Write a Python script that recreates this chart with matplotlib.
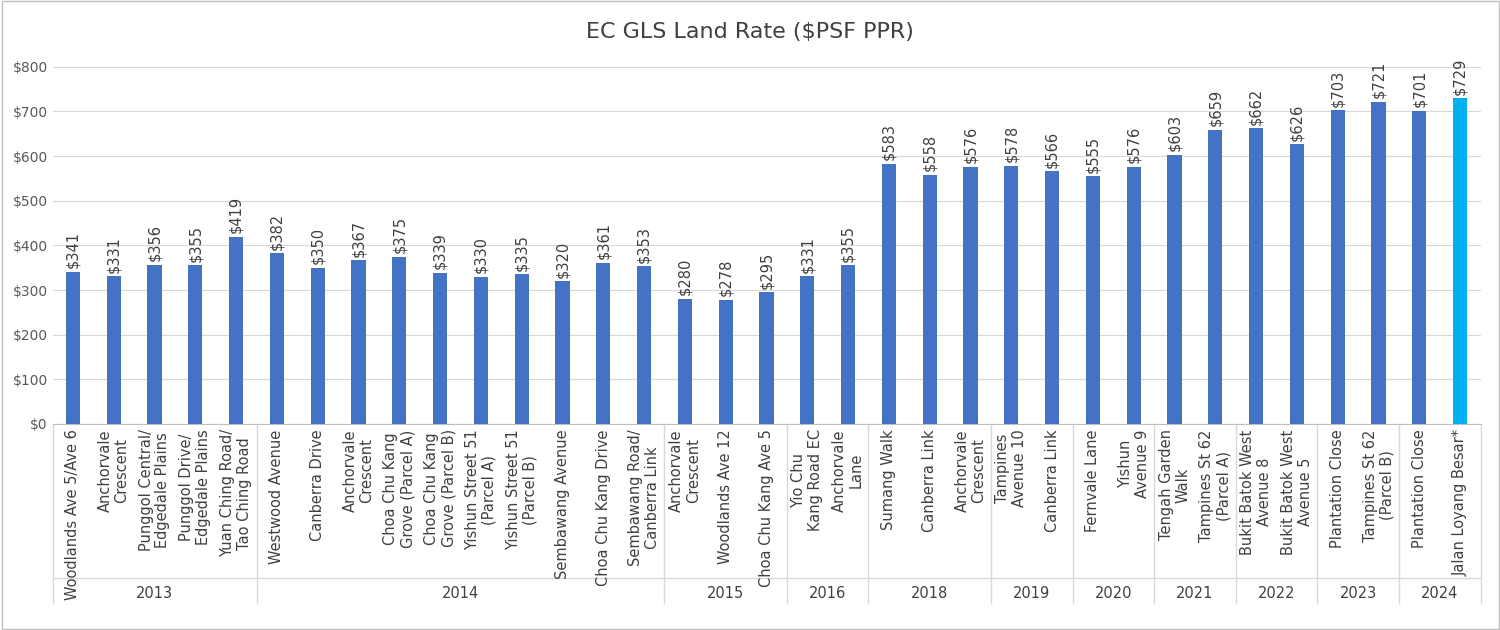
import matplotlib
matplotlib.use("Agg")
import matplotlib.pyplot as plt
from matplotlib.lines import Line2D

labels = ["Woodlands Ave 5/Ave 6", "Anchorvale\nCrescent", "Punggol Central/\nEdgedale Plains",
          "Punggol Drive/\nEdgedale Plains", "Yuan Ching Road/\nTao Ching Road",
          "Westwood Avenue", "Canberra Drive", "Anchorvale\nCrescent", "Choa Chu Kang\nGrove (Parcel A)",
          "Choa Chu Kang\nGrove (Parcel B)", "Yishun Street 51\n(Parcel A)", "Yishun Street 51\n(Parcel B)",
          "Sembawang Avenue", "Choa Chu Kang Drive", "Sembawang Road/\nCanberra Link",
          "Anchorvale\nCrescent", "Woodlands Ave 12", "Choa Chu Kang Ave 5",
          "Yio Chu\nKang Road EC", "Anchorvale\nLane",
          "Sumang Walk", "Canberra Link", "Anchorvale\nCrescent",
          "Tampines\nAvenue 10", "Canberra Link",
          "Fernvale Lane", "Yishun\nAvenue 9",
          "Tengah Garden\nWalk", "Tampines St 62\n(Parcel A)",
          "Bukit Batok West\nAvenue 8", "Bukit Batok West\nAvenue 5",
          "Plantation Close", "Tampines St 62\n(Parcel B)",
          "Plantation Close", "Jalan Loyang Besar*"]
values = [341, 331, 356, 355, 419, 382, 350, 367, 375, 339, 330, 335, 320, 361, 353,
          280, 278, 295, 331, 355, 583, 558, 576, 578, 566, 555, 576, 603, 659,
          662, 626, 703, 721, 701, 729]
years = ["2013", "2014", "2015", "2016", "2018", "2019", "2020", "2021", "2022", "2023", "2024"]
year_counts = [5, 10, 3, 2, 3, 2, 2, 2, 2, 2, 2]

fig = plt.figure(figsize=(15, 6.3), dpi=100)
ax = fig.add_axes([0.035, 0.327, 0.952, 0.567])
n = len(values)
x = list(range(n))
colors = ["#4472C4"] * (n - 1) + ["#00B0F0"]
ax.bar(x, values, width=0.35, color=colors, zorder=3)
ax.set_xlim(-0.5, n - 0.5)
ax.set_ylim(0, 800)
ax.set_yticks(range(0, 801, 100))
ax.set_yticklabels([f"${v}" for v in range(0, 801, 100)], color="#595959", fontsize=10)
ax.grid(axis="y", color="#D9D9D9", zorder=0)
for s in ["top", "right", "left"]:
    ax.spines[s].set_visible(False)
ax.spines["bottom"].set_color("#BFBFBF")
ax.tick_params(axis="y", length=0)
ax.set_xticks([])
for xi, v in zip(x, values):
    ax.text(xi, v + 8, f"${v}", rotation=90, ha="center", va="bottom", fontsize=10.5, color="#404040")
trans = ax.get_xaxis_transform()
for xi, lab in zip(x, labels):
    ax.text(xi, -0.015, lab, rotation=90, ha="center", va="top", fontsize=10.5,
            color="#404040", transform=trans, linespacing=1.15)
start = 0
bounds = [-0.5]
for y, c in zip(years, year_counts):
    ax.text(start + c / 2 - 0.5, -0.475, y, ha="center", va="center", fontsize=10.5,
            color="#404040", transform=trans)
    start += c
    bounds.append(start - 0.5)
for b in bounds:
    ax.add_line(Line2D([b, b], [0, -0.5], transform=trans, color="#D9D9D9", lw=1, clip_on=False))
ax.add_line(Line2D([-0.5, n - 0.5], [-0.43, -0.43], transform=trans, color="#D9D9D9", lw=1, clip_on=False))
fig.suptitle("EC GLS Land Rate ($PSF PPR)", y=0.965, fontsize=16, color="#404040")
fig.patches.append(plt.Rectangle((0.001, 0.001), 0.998, 0.997, transform=fig.transFigure,
                                 fill=False, edgecolor="#BFBFBF", lw=1))
fig.savefig("out.png", dpi=100)
